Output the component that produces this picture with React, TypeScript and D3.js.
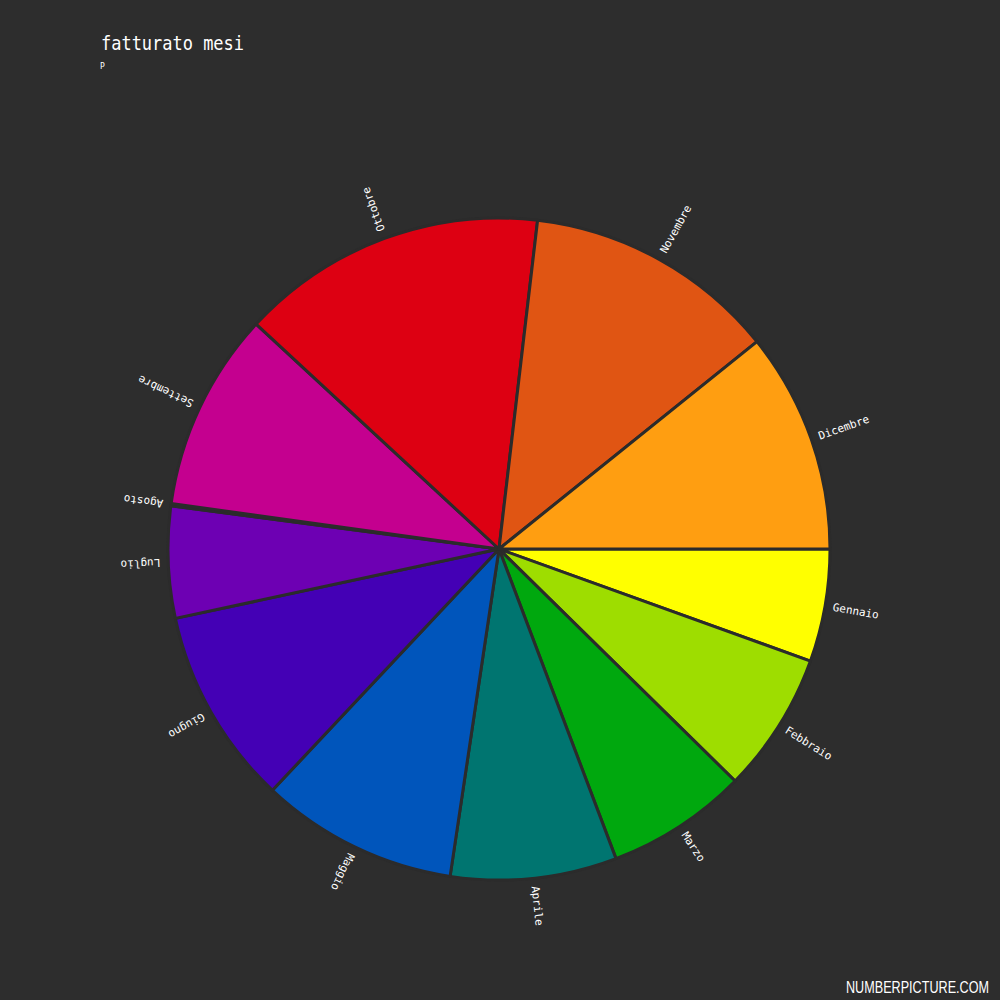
import React, { useEffect, useRef } from 'react';
import * as d3 from 'd3';

// months and their share
const months = [
  'Gennaio', 'Febbraio', 'Marzo', 'Aprile', 'Maggio', 'Giugno',
  'Luglio', 'Agosto', 'Settembre', 'Ottobre', 'Novembre', 'Dicembre',
];
const values = [19.8, 24.7, 24.8, 29.2, 34.7, 34.7, 19.6, 0.4, 34.9, 53.9, 44.5, 38.8];
const colors = [
  '#ffff00', '#9edd00', '#00a80e', '#007570', '#0055bb', '#4400b5',
  '#6d00b3', '#9a00a8', '#c4008f', '#dd0012', '#e05513', '#ff9e11',
];

const W = 1000;
const H = 1000;
const BG = '#2d2d2d';

const App: React.FC = () => {
  const svgRef = useRef<SVGSVGElement>(null);

  useEffect(() => {
    if (!svgRef.current) return;
    const svg = d3.select(svgRef.current);
    svg.selectAll('*').remove();

    svg.append('rect').attr('width', W).attr('height', H).attr('fill', BG);

    const cx = 499;
    const cy = 549;
    const radius = 331;

    const data = months.map((m, i) => ({ name: m, value: values[i], color: colors[i] }));

    // start at 3 o'clock, go clockwise
    const pie = d3
      .pie<{ name: string; value: number; color: string }>()
      .sort(null)
      .value((d) => d.value)
      .startAngle(Math.PI / 2)
      .endAngle(Math.PI / 2 + Math.PI * 2);

    const arc = d3
      .arc<d3.PieArcDatum<{ name: string; value: number; color: string }>>()
      .innerRadius(0)
      .outerRadius(radius);

    const g = svg.append('g').attr('transform', `translate(${cx},${cy})`);
    const arcs = pie(data);

    g.selectAll('path')
      .data(arcs)
      .enter()
      .append('path')
      .attr('d', arc)
      .attr('fill', (d) => d.data.color)
      .attr('stroke', '#2b2b2b')
      .attr('stroke-width', 3)
      .attr('stroke-linejoin', 'round');

    // radial labels, rotated with the slice (no flipping)
    g.selectAll('text.lbl')
      .data(arcs)
      .enter()
      .append('text')
      .attr('class', 'lbl')
      .attr('transform', (d) => {
        const mid = ((d.startAngle + d.endAngle) / 2) * (180 / Math.PI) - 90;
        return `rotate(${mid}) translate(${radius + 8},0)`;
      })
      .attr('dominant-baseline', 'central')
      .attr('text-anchor', 'start')
      .attr('font-family', '"DejaVu Sans Mono", monospace')
      .attr('font-size', 11)
      .attr('fill', '#ffffff')
      .text((d) => d.data.name);

    // Title
    svg
      .append('text')
      .attr('x', 101)
      .attr('y', 50)
      .attr('font-family', '"DejaVu Sans Mono", monospace')
      .attr('font-size', 19)
      .attr('textLength', 143)
      .attr('lengthAdjust', 'spacingAndGlyphs')
      .attr('fill', '#ffffff')
      .text('fatturato mesi');

    svg
      .append('text')
      .attr('x', 100)
      .attr('y', 69)
      .attr('font-family', '"DejaVu Sans Mono", monospace')
      .attr('font-size', 8)
      .attr('fill', '#ffffff')
      .text('P');

    // watermark
    svg
      .append('text')
      .attr('x', 846)
      .attr('y', 993)
      .attr('font-family', '"Liberation Sans", Arial, sans-serif')
      .attr('font-size', 16)
      .attr('textLength', 143)
      .attr('lengthAdjust', 'spacingAndGlyphs')
      .attr('fill', '#ffffff')
      .text('NUMBERPICTURE.COM');
  }, []);

  return <svg ref={svgRef} width={W} height={H} style={{ display: 'block', position: 'absolute', left: 0, top: 0 }} />;
};

export default App;
